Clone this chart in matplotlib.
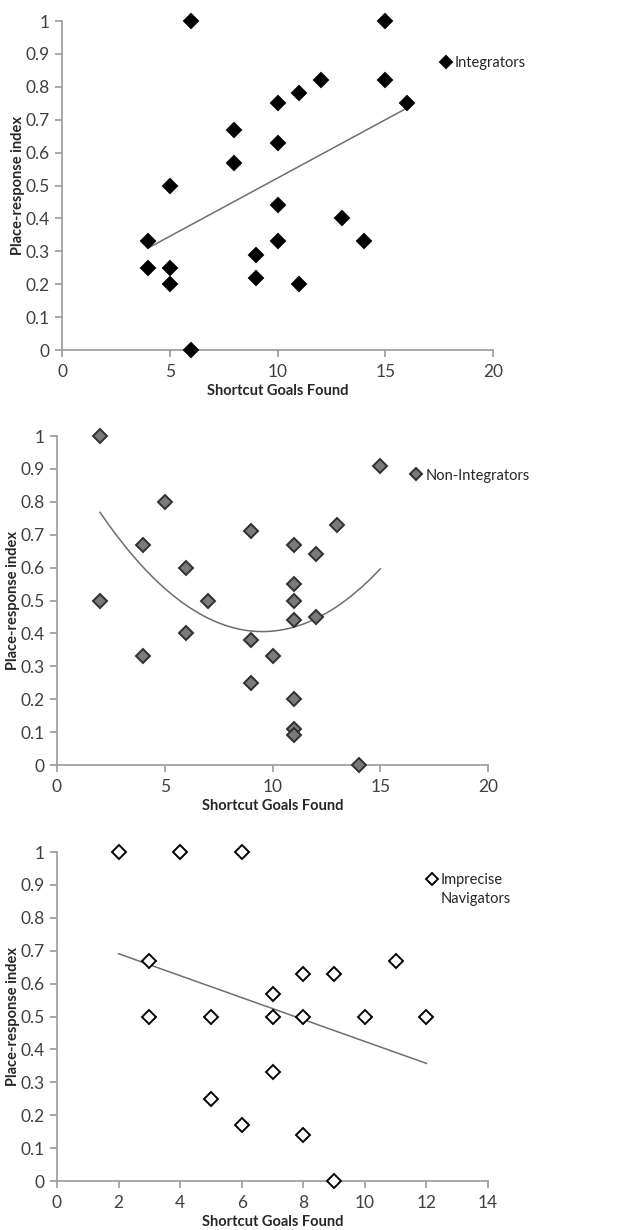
import numpy as np
import matplotlib.pyplot as plt
from matplotlib.ticker import FuncFormatter

plt.rcParams['font.family'] = ['Lato', 'DejaVu Sans']

# Integrators
int_goals = [6, 15, 15, 12, 11, 10, 16, 8, 10, 8, 5, 10, 13, 4, 10, 14, 9, 4, 5, 9, 5, 11, 6]
int_index = [1.0, 1.0, 0.82, 0.82, 0.78, 0.75, 0.75, 0.67, 0.63, 0.57, 0.50, 0.44, 0.40,
             0.33, 0.33, 0.33, 0.29, 0.25, 0.25, 0.22, 0.20, 0.20, 0.0]

# Non-Integrators
non_goals = [2, 15, 5, 13, 9, 4, 11, 12, 6, 11, 2, 7, 11, 12, 11, 6, 9, 4, 10, 9, 11, 11, 11, 14]
non_index = [1.0, 0.91, 0.80, 0.73, 0.71, 0.67, 0.67, 0.64, 0.60, 0.55, 0.50, 0.50, 0.50,
             0.45, 0.44, 0.40, 0.38, 0.33, 0.33, 0.25, 0.20, 0.11, 0.09, 0.0]

# Imprecise Navigators
imp_goals = [2, 4, 6, 3, 11, 8, 9, 7, 3, 5, 7, 8, 10, 12, 7, 5, 6, 8, 9]
imp_index = [1.0, 1.0, 1.0, 0.67, 0.67, 0.63, 0.63, 0.57, 0.50, 0.50, 0.50, 0.50, 0.50,
             0.50, 0.33, 0.25, 0.17, 0.14, 0.0]

y_ticks = np.round(np.arange(0, 1.01, 0.1), 1)

spine_col = '#9a9a9a'
tick_col = '#404040'

fig = plt.figure(figsize=(6.33, 12.30), dpi=100)

panels = [
    # x, y, label, fit degree, face, edge, xmax, xstep, rect, legend anchor
    (int_goals, int_index, 'Integrators', 1, 'black', 'black', 20, 5,
     [0.098, 0.7154, 0.681, 0.2675], (0.878, 0.872)),
    (non_goals, non_index, 'Non-Integrators', 2, '#7a7a7a', '#303030', 20, 5,
     [0.090, 0.378, 0.681, 0.2675], (0.822, 0.88)),
    (imp_goals, imp_index, 'Imprecise\nNavigators', 1, 'white', 'black', 14, 2,
     [0.090, 0.0398, 0.681, 0.2675], (0.858, 0.886)),
]

for gx, gy, name, deg, face, edge, xmax, xstep, rect, anchor in panels:
    ax = fig.add_axes(rect)
    ax.plot(gx, gy, linestyle='none', marker='D', markersize=7.5,
            markerfacecolor=face, markeredgecolor=edge, markeredgewidth=1.4,
            clip_on=False, zorder=3, label=name)

    # Excel-style trendline
    coef = np.polyfit(gx, gy, deg)
    xs = np.linspace(min(gx), max(gx), 100)
    ax.plot(xs, np.polyval(coef, xs), color='#6e6e6e', linewidth=1.1, zorder=2)

    ax.set_xlim(0, xmax)
    ax.set_ylim(0, 1)
    ax.set_xticks(np.arange(0, xmax + 1, xstep))
    ax.set_yticks(y_ticks)
    ax.yaxis.set_major_formatter(FuncFormatter(lambda v, p: f'{v:g}'))

    for s in ['top', 'right']:
        ax.spines[s].set_visible(False)
    for s in ['left', 'bottom']:
        ax.spines[s].set_color(spine_col)
        ax.spines[s].set_linewidth(1.2)

    ax.tick_params(axis='both', direction='out', length=5, width=1.2, color=spine_col,
                   labelsize=12.5, labelcolor=tick_col)
    ax.tick_params(axis='y', pad=4)
    ax.tick_params(axis='x', pad=5)

    ax.set_xlabel('Shortcut Goals Found', fontsize=10.5, fontweight='bold', color='#262626', labelpad=3)
    ax.set_ylabel('Place-response index', fontsize=10.5, fontweight='bold', color='#262626', labelpad=0)

    leg = ax.legend(loc='center left', bbox_to_anchor=anchor, frameon=False,
                    handlelength=0.7, handletextpad=0.25, borderpad=0, borderaxespad=0,
                    fontsize=10.5, markerscale=0.75, labelcolor='#262626', labelspacing=0.5)
    for t in leg.get_texts():
        t.set_linespacing(1.4)
    if '\n' in name:
        # keep the marker next to the first line of a two-line label
        h = leg.legend_handles[0]
        h.set_ydata(np.asarray(h.get_ydata()) + 8)

fig.savefig('out.png', dpi=100)
